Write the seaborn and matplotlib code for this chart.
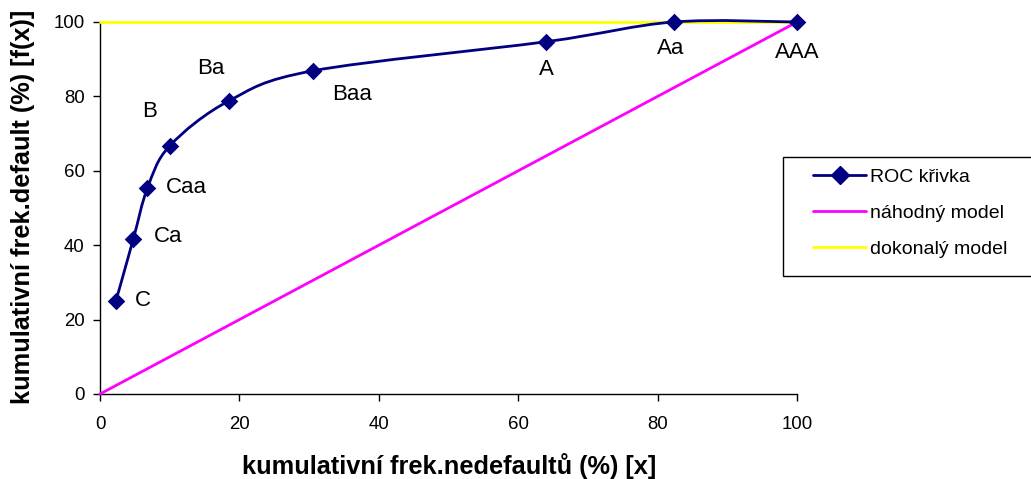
import numpy as np
import pandas as pd
import matplotlib
matplotlib.use("Agg")
import matplotlib.pyplot as plt
import seaborn as sns
from matplotlib.path import Path
from matplotlib.patches import PathPatch, Rectangle
from matplotlib.lines import Line2D

# ---- data ----
ratings = ["C", "Ca", "Caa", "B", "Ba", "Baa", "A", "Aa", "AAA"]
roc_x = [2.3, 4.8, 6.8, 10.0, 18.5, 30.6, 64.0, 82.3, 100.0]
roc_y = [25.1, 41.8, 55.3, 66.7, 78.8, 86.9, 94.7, 100.0, 100.0]
random_x = [0, 100]
random_y = [0, 100]
perfect_x = [0, 100]
perfect_y = [100, 100]
x_ticks = [0, 20, 40, 60, 80, 100]
y_ticks = [0, 20, 40, 60, 80, 100]
legend_labels = ["ROC křivka", "náhodný model", "dokonalý model"]
xlabel = "kumulativní frek.nedefaultů (%) [x]"
ylabel = "kumulativní frek.default (%) [f(x)]"

# label offsets in pixels (dx, dy) relative to each point
label_offsets = {"C": (27, 0), "Ca": (35, 2), "Caa": (39, 1), "B": (-20, 34),
                 "Ba": (-18, 32), "Baa": (39, -24), "A": (0, -28),
                 "Aa": (-3, -27), "AAA": (0, -30)}

NAVY = "#000080"
MAGENTA = "#FF00FF"
YELLOW = "#FFFF00"

sns.set_style("white")
plt.rcParams["font.family"] = ["Liberation Sans", "DejaVu Sans"]
plt.rcParams["text.color"] = "black"
plt.rcParams["axes.labelcolor"] = "black"
plt.rcParams["xtick.color"] = "black"
plt.rcParams["ytick.color"] = "black"

W, H = 1031, 479
fig = plt.figure(figsize=(W / 100, H / 100), dpi=100)
ax = fig.add_axes([100 / W, (H - 394) / H, 697 / W, 372 / H])

df = pd.DataFrame({"x": roc_x, "y": roc_y, "rating": ratings})

# smoothed ROC curve (Catmull-Rom style Bezier through the data points)
pts = np.column_stack([roc_x, roc_y])
verts = [tuple(pts[0])]
codes = [Path.MOVETO]
n = len(pts)
for i in range(n - 1):
    p0 = pts[i - 1] if i > 0 else pts[i]
    p1 = pts[i]
    p2 = pts[i + 1]
    p3 = pts[i + 2] if i + 2 < n else pts[i + 1]
    c1 = p1 + (p2 - p0) / 6.0
    c2 = p2 - (p3 - p1) / 6.0
    verts += [tuple(c1), tuple(c2), tuple(p2)]
    codes += [Path.CURVE4] * 3
ax.add_patch(PathPatch(Path(verts, codes), facecolor="none", edgecolor=NAVY,
                       lw=2, zorder=3, clip_on=False))

sns.lineplot(x=random_x, y=random_y, color=MAGENTA, lw=2, ax=ax, zorder=2,
             clip_on=False)
sns.lineplot(x=perfect_x, y=perfect_y, color=YELLOW, lw=2, ax=ax, zorder=2,
             clip_on=False)
sns.scatterplot(data=df, x="x", y="y", marker="D", s=80, color=NAVY,
                edgecolor=NAVY, linewidth=0, ax=ax, zorder=5, clip_on=False)

for r, xv, yv in zip(ratings, roc_x, roc_y):
    dx, dy = label_offsets[r]
    ax.annotate(r, (xv, yv), xytext=(dx, dy), textcoords="offset pixels",
                ha="center", va="center", fontsize=16, color="black")

ax.set_xlim(0, 100)
ax.set_ylim(0, 100)
ax.set_xticks(x_ticks)
ax.set_yticks(y_ticks)
ax.set_xlabel("")
ax.set_ylabel("")
for s in ["top", "right"]:
    ax.spines[s].set_visible(False)
for s in ["left", "bottom"]:
    ax.spines[s].set_color("black")
    ax.spines[s].set_linewidth(1)
    ax.spines[s].set_zorder(1)
ax.tick_params(axis="both", direction="out", length=5, width=1, color="black",
               labelsize=13.4, labelcolor="black", left=True, bottom=True)
ax.tick_params(axis="x", pad=11)
ax.tick_params(axis="y", pad=6)

fig.text(449 / W, 1 - 466 / H, xlabel, ha="center", va="center",
         fontsize=18.3, fontweight="bold", color="black")
fig.text(23 / W, 1 - 206.5 / H, ylabel, ha="center", va="center",
         fontsize=18.3, fontweight="bold", rotation=90, color="black")

# legend
handles = [Line2D([], [], color=NAVY, lw=2, marker="D", ms=9,
                  markerfacecolor=NAVY, markeredgecolor=NAVY),
           Line2D([], [], color=MAGENTA, lw=2),
           Line2D([], [], color=YELLOW, lw=2)]
fig.add_artist(Rectangle((782.5 / W, (H - 276) / H), 300 / W, (276 - 156.5) / H,
                         transform=fig.transFigure, facecolor="white",
                         edgecolor="black", lw=1, clip_on=False, zorder=4))
leg = fig.legend(handles, legend_labels, loc="center left",
                 bbox_to_anchor=(813 / W, 1 - 213 / H), frameon=False,
                 fontsize=14, handlelength=53 / 19.4, handletextpad=0.2,
                 labelspacing=0.95, borderpad=0, borderaxespad=0,
                 labelcolor="black")
leg.set_zorder(6)

fig.savefig("out.png", dpi=100)
